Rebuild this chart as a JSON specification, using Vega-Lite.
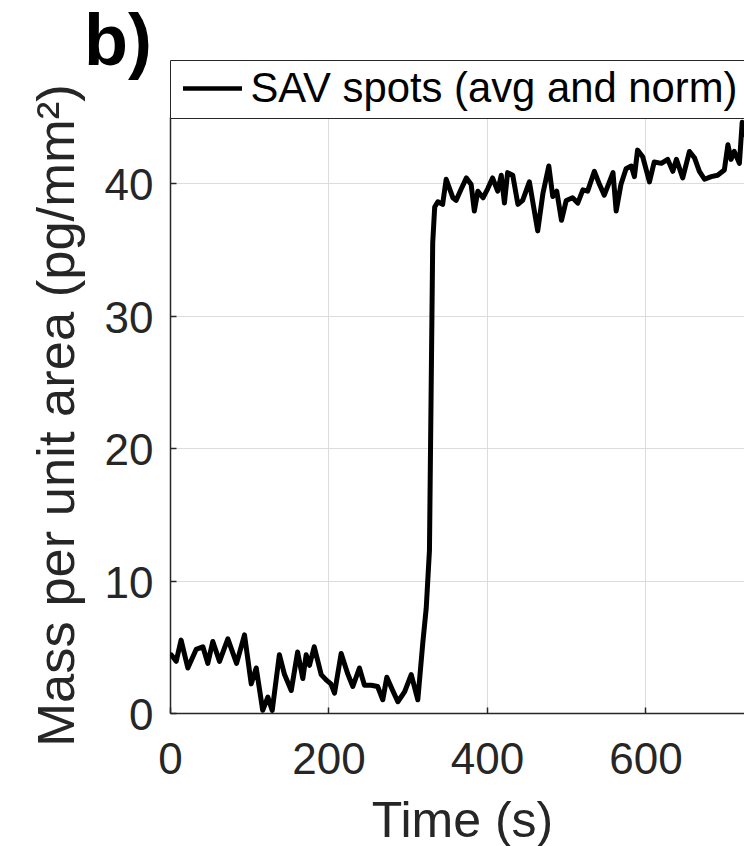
{
  "$schema": "https://vega.github.io/schema/vega-lite/v6.json",
  "width": 574,
  "height": 596,
  "autosize": {"type": "none"},
  "padding": {"left": 170, "top": 117, "right": 0, "bottom": 133},
  "background": "white",
  "title": {"text": "b)", "anchor": "start", "frame": "group", "fontSize": 72, "font": "Liberation Sans", "fontWeight": "bold", "color": "#000", "dx": -86, "offset": -77, "baseline": "alphabetic"},
  "config": {
    "view": {"stroke": null},
    "font": "Liberation Sans",
    "axis": {"domainColor": "#262626", "domainWidth": 1.5, "tickColor": "#262626", "tickWidth": 1.5, "labelColor": "#262626", "titleColor": "#262626", "gridColor": "#dcdcdc", "gridWidth": 1, "labelFont": "Liberation Sans", "titleFont": "Liberation Sans", "labelFontSize": 44, "titleFontSize": 50, "titleFontWeight": "normal", "labelFlush": false, "labelOverlap": false}
  },
  "data": {"values": [
    {"t": 0, "v": 4.4, "series": "SAV spots (avg and norm)"},
    {"t": 1.5, "v": 4.4, "series": "SAV spots (avg and norm)"},
    {"t": 7.8, "v": 3.9, "series": "SAV spots (avg and norm)"},
    {"t": 14, "v": 5.5, "series": "SAV spots (avg and norm)"},
    {"t": 22.5, "v": 3.4, "series": "SAV spots (avg and norm)"},
    {"t": 33, "v": 4.8, "series": "SAV spots (avg and norm)"},
    {"t": 41.5, "v": 5.0, "series": "SAV spots (avg and norm)"},
    {"t": 47.7, "v": 3.75, "series": "SAV spots (avg and norm)"},
    {"t": 54, "v": 5.4, "series": "SAV spots (avg and norm)"},
    {"t": 62.5, "v": 3.9, "series": "SAV spots (avg and norm)"},
    {"t": 73, "v": 5.6, "series": "SAV spots (avg and norm)"},
    {"t": 84, "v": 3.75, "series": "SAV spots (avg and norm)"},
    {"t": 94, "v": 5.9, "series": "SAV spots (avg and norm)"},
    {"t": 102.5, "v": 2.2, "series": "SAV spots (avg and norm)"},
    {"t": 108.8, "v": 3.4, "series": "SAV spots (avg and norm)"},
    {"t": 117, "v": 0.2, "series": "SAV spots (avg and norm)"},
    {"t": 123.4, "v": 1.2, "series": "SAV spots (avg and norm)"},
    {"t": 129, "v": 0.2, "series": "SAV spots (avg and norm)"},
    {"t": 138, "v": 4.4, "series": "SAV spots (avg and norm)"},
    {"t": 144.5, "v": 2.9, "series": "SAV spots (avg and norm)"},
    {"t": 153, "v": 1.7, "series": "SAV spots (avg and norm)"},
    {"t": 161, "v": 4.6, "series": "SAV spots (avg and norm)"},
    {"t": 167.6, "v": 2.6, "series": "SAV spots (avg and norm)"},
    {"t": 171.8, "v": 4.4, "series": "SAV spots (avg and norm)"},
    {"t": 176, "v": 3.6, "series": "SAV spots (avg and norm)"},
    {"t": 182, "v": 5.0, "series": "SAV spots (avg and norm)"},
    {"t": 190.8, "v": 2.9, "series": "SAV spots (avg and norm)"},
    {"t": 197, "v": 2.5, "series": "SAV spots (avg and norm)"},
    {"t": 203, "v": 2.2, "series": "SAV spots (avg and norm)"},
    {"t": 207.6, "v": 1.5, "series": "SAV spots (avg and norm)"},
    {"t": 216, "v": 4.5, "series": "SAV spots (avg and norm)"},
    {"t": 224, "v": 3.0, "series": "SAV spots (avg and norm)"},
    {"t": 230.7, "v": 2.0, "series": "SAV spots (avg and norm)"},
    {"t": 239, "v": 3.4, "series": "SAV spots (avg and norm)"},
    {"t": 245.4, "v": 2.1, "series": "SAV spots (avg and norm)"},
    {"t": 254, "v": 2.1, "series": "SAV spots (avg and norm)"},
    {"t": 262, "v": 2.0, "series": "SAV spots (avg and norm)"},
    {"t": 268.5, "v": 1.0, "series": "SAV spots (avg and norm)"},
    {"t": 273.6, "v": 2.7, "series": "SAV spots (avg and norm)"},
    {"t": 281, "v": 1.7, "series": "SAV spots (avg and norm)"},
    {"t": 287.5, "v": 0.85, "series": "SAV spots (avg and norm)"},
    {"t": 296, "v": 1.6, "series": "SAV spots (avg and norm)"},
    {"t": 304.4, "v": 2.9, "series": "SAV spots (avg and norm)"},
    {"t": 312.7, "v": 1.0, "series": "SAV spots (avg and norm)"},
    {"t": 319, "v": 5.3, "series": "SAV spots (avg and norm)"},
    {"t": 323.3, "v": 7.9, "series": "SAV spots (avg and norm)"},
    {"t": 327.4, "v": 12.3, "series": "SAV spots (avg and norm)"},
    {"t": 331.5, "v": 35.5, "series": "SAV spots (avg and norm)"},
    {"t": 334, "v": 38.2, "series": "SAV spots (avg and norm)"},
    {"t": 338, "v": 38.6, "series": "SAV spots (avg and norm)"},
    {"t": 344, "v": 38.4, "series": "SAV spots (avg and norm)"},
    {"t": 348.5, "v": 40.3, "series": "SAV spots (avg and norm)"},
    {"t": 357, "v": 38.9, "series": "SAV spots (avg and norm)"},
    {"t": 361, "v": 38.7, "series": "SAV spots (avg and norm)"},
    {"t": 367, "v": 39.5, "series": "SAV spots (avg and norm)"},
    {"t": 374, "v": 40.4, "series": "SAV spots (avg and norm)"},
    {"t": 380, "v": 39.9, "series": "SAV spots (avg and norm)"},
    {"t": 384, "v": 37.9, "series": "SAV spots (avg and norm)"},
    {"t": 388.5, "v": 39.4, "series": "SAV spots (avg and norm)"},
    {"t": 395, "v": 38.9, "series": "SAV spots (avg and norm)"},
    {"t": 401, "v": 39.6, "series": "SAV spots (avg and norm)"},
    {"t": 407, "v": 40.4, "series": "SAV spots (avg and norm)"},
    {"t": 413.5, "v": 39.4, "series": "SAV spots (avg and norm)"},
    {"t": 418, "v": 40.6, "series": "SAV spots (avg and norm)"},
    {"t": 422, "v": 38.5, "series": "SAV spots (avg and norm)"},
    {"t": 426, "v": 40.8, "series": "SAV spots (avg and norm)"},
    {"t": 432.5, "v": 40.6, "series": "SAV spots (avg and norm)"},
    {"t": 439, "v": 38.4, "series": "SAV spots (avg and norm)"},
    {"t": 445, "v": 38.7, "series": "SAV spots (avg and norm)"},
    {"t": 453.5, "v": 40.1, "series": "SAV spots (avg and norm)"},
    {"t": 464, "v": 36.4, "series": "SAV spots (avg and norm)"},
    {"t": 470.5, "v": 39.2, "series": "SAV spots (avg and norm)"},
    {"t": 478, "v": 41.3, "series": "SAV spots (avg and norm)"},
    {"t": 483, "v": 39.0, "series": "SAV spots (avg and norm)"},
    {"t": 488, "v": 39.4, "series": "SAV spots (avg and norm)"},
    {"t": 494, "v": 37.2, "series": "SAV spots (avg and norm)"},
    {"t": 500, "v": 38.7, "series": "SAV spots (avg and norm)"},
    {"t": 508, "v": 38.9, "series": "SAV spots (avg and norm)"},
    {"t": 514.5, "v": 38.5, "series": "SAV spots (avg and norm)"},
    {"t": 521, "v": 39.5, "series": "SAV spots (avg and norm)"},
    {"t": 527, "v": 39.4, "series": "SAV spots (avg and norm)"},
    {"t": 535.5, "v": 40.9, "series": "SAV spots (avg and norm)"},
    {"t": 542, "v": 39.9, "series": "SAV spots (avg and norm)"},
    {"t": 548, "v": 39.1, "series": "SAV spots (avg and norm)"},
    {"t": 559, "v": 40.8, "series": "SAV spots (avg and norm)"},
    {"t": 563, "v": 37.9, "series": "SAV spots (avg and norm)"},
    {"t": 569, "v": 39.9, "series": "SAV spots (avg and norm)"},
    {"t": 575.5, "v": 41.1, "series": "SAV spots (avg and norm)"},
    {"t": 582, "v": 41.3, "series": "SAV spots (avg and norm)"},
    {"t": 586, "v": 40.5, "series": "SAV spots (avg and norm)"},
    {"t": 590, "v": 42.5, "series": "SAV spots (avg and norm)"},
    {"t": 596.5, "v": 42.0, "series": "SAV spots (avg and norm)"},
    {"t": 605, "v": 40.1, "series": "SAV spots (avg and norm)"},
    {"t": 611, "v": 41.6, "series": "SAV spots (avg and norm)"},
    {"t": 620, "v": 41.5, "series": "SAV spots (avg and norm)"},
    {"t": 628, "v": 41.8, "series": "SAV spots (avg and norm)"},
    {"t": 634.5, "v": 40.9, "series": "SAV spots (avg and norm)"},
    {"t": 639, "v": 41.8, "series": "SAV spots (avg and norm)"},
    {"t": 647, "v": 40.4, "series": "SAV spots (avg and norm)"},
    {"t": 655.5, "v": 42.4, "series": "SAV spots (avg and norm)"},
    {"t": 662, "v": 41.9, "series": "SAV spots (avg and norm)"},
    {"t": 668, "v": 40.9, "series": "SAV spots (avg and norm)"},
    {"t": 674.5, "v": 40.3, "series": "SAV spots (avg and norm)"},
    {"t": 683, "v": 40.5, "series": "SAV spots (avg and norm)"},
    {"t": 691, "v": 40.6, "series": "SAV spots (avg and norm)"},
    {"t": 699.5, "v": 41.0, "series": "SAV spots (avg and norm)"},
    {"t": 704, "v": 42.9, "series": "SAV spots (avg and norm)"},
    {"t": 708, "v": 41.8, "series": "SAV spots (avg and norm)"},
    {"t": 712, "v": 42.4, "series": "SAV spots (avg and norm)"},
    {"t": 718.5, "v": 41.5, "series": "SAV spots (avg and norm)"},
    {"t": 722, "v": 44.6, "series": "SAV spots (avg and norm)"},
    {"t": 726, "v": 43.5, "series": "SAV spots (avg and norm)"}
  ]},
  "mark": {"type": "line", "strokeWidth": 5, "clip": true, "strokeJoin": "round"},
  "encoding": {
    "x": {"field": "t", "type": "quantitative", "scale": {"domain": [0, 724.3], "nice": false, "zero": false},
      "axis": {"title": "Time (s)", "values": [0, 200, 400, 600], "tickSize": -6, "labelPadding": 31, "titleX": 292, "titleY": 123, "titleBaseline": "alphabetic", "titleAlign": "center"}},
    "y": {"field": "v", "type": "quantitative", "scale": {"domain": [0, 45], "nice": false},
      "axis": {"title": "Mass per unit area (pg/mm²)", "titleFontSize": 52.5, "values": [0, 10, 20, 30, 40], "tickSize": -6, "labelPadding": 23, "labelBaseline": "alphabetic", "labelOffset": 16.5, "titleX": -97, "titleY": 298, "titleAngle": 270, "titleBaseline": "alphabetic", "titleAlign": "center"}},
    "color": {"field": "series", "type": "nominal", "scale": {"range": ["#000000"]},
      "legend": {"orient": "none", "legendX": 0, "legendY": -57, "title": "\u00a0", "titleOrient": "right", "titleFontSize": 10, "titlePadding": 10, "symbolType": "M-2,0H2", "symbolSize": 870, "symbolStrokeWidth": 4.5, "symbolStrokeColor": "#000", "symbolFillColor": "transparent", "labelFontSize": 41.8, "labelFont": "Liberation Sans", "labelColor": "#000", "labelLimit": 0, "strokeColor": "#262626", "fillColor": "white", "padding": 7.6, "symbolOffset": 14, "labelOffset": 17}}
  }
}
